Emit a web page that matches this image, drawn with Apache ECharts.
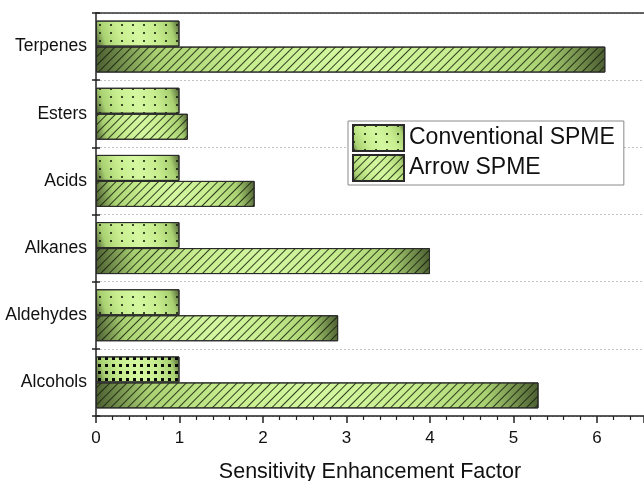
<!DOCTYPE html>
<html><head><meta charset="utf-8">
<script src="https://cdn.jsdelivr.net/npm/echarts@6/dist/echarts.min.js"></script>
<style>html,body{margin:0;padding:0;background:#fff}#c{width:644px;height:481px}</style>
</head><body><div id="c"></div>
<script>
var categories = ['Alcohols', 'Aldehydes', 'Alkanes', 'Acids', 'Esters', 'Terpenes'];
var conventional = [1, 1, 1, 1, 1, 1];
var arrow = [5.3, 2.9, 4.0, 1.9, 1.1, 6.1];
var xTicks = [0, 1, 2, 3, 4, 5, 6];
var seriesNames = ['Conventional SPME', 'Arrow SPME'];

var FONT = 'Liberation Sans, Arial, sans-serif';
function grad() {
  return new echarts.graphic.LinearGradient(1, 0, 0, 1, [
    {offset: 0, color: '#4a5c30'},
    {offset: 0.12, color: '#a9d172'},
    {offset: 0.3, color: '#c8ee90'},
    {offset: 0.5, color: '#d4f7a0'},
    {offset: 0.7, color: '#c8ee90'},
    {offset: 0.88, color: '#a9d172'},
    {offset: 1, color: '#4a5c30'}
  ]);
}
var dotDecal = {symbol: 'rect', symbolSize: 1, dashArrayX: [2, 9], dashArrayY: [2, 6], color: 'rgba(20,30,10,0.8)'};
var boldDotDecal = {symbol: 'rect', symbolSize: 1, dashArrayX: [3, 4], dashArrayY: [3, 4], color: 'rgba(0,0,0,0.95)'};
var hatchDecal = {symbol: 'rect', symbolSize: 1, dashArrayX: [1, 0], dashArrayY: [1, 5], rotation: -Math.PI / 4, color: 'rgba(20,30,10,0.85)'};

var convData = conventional.map(function (v, i) {
  if (categories[i] === 'Alcohols') {
    return {value: v, itemStyle: {decal: boldDotDecal}};
  }
  return v;
});

var chart = echarts.init(document.getElementById('c'), null, {renderer: 'canvas'});
chart.setOption({
  animation: false,
  backgroundColor: '#fff',
  grid: {left: 96, top: 13, bottom: 65, right: 0, containLabel: false, outerBoundsMode: 'none'},
  legend: {
    data: seriesNames,
    orient: 'vertical',
    left: 348, top: 121,
    padding: [3, 9, 3, 4],
    itemWidth: 51, itemHeight: 26, itemGap: 2,
    borderColor: '#8a8a8a', borderWidth: 1, backgroundColor: '#fff',
    icon: 'rect',
    textStyle: {fontSize: 23, fontFamily: FONT, color: '#111'}
  },
  xAxis: [{
    type: 'value', min: 0, max: 6.563, interval: 1,
    name: 'Sensitivity Enhancement Factor', nameLocation: 'middle', nameGap: 45,
    nameTextStyle: {fontSize: 21.5, fontFamily: FONT, color: '#111'},
    axisLine: {show: true, lineStyle: {color: '#222', width: 1.5}},
    axisTick: {show: true, length: 7, lineStyle: {color: '#222', width: 1.5}},
    minorTick: {show: true, splitNumber: 5, length: 4, lineStyle: {color: '#222', width: 1.2}},
    axisLabel: {fontSize: 17, fontFamily: FONT, color: '#111', margin: 14, showMaxLabel: false,
      formatter: function (v) { return xTicks.indexOf(v) >= 0 ? String(v) : ''; }},
    splitLine: {show: false}
  }, {
    type: 'value', position: 'top', min: 0, max: 6.563,
    axisLine: {show: true, lineStyle: {color: '#333', width: 1.5}},
    axisTick: {show: false}, axisLabel: {show: false}, splitLine: {show: false}
  }],
  yAxis: [{
    type: 'category', data: categories,
    axisLine: {show: true, lineStyle: {color: '#222', width: 1.5}},
    axisTick: {show: true, length: 4, lineStyle: {color: '#222', width: 1.5}},
    axisLabel: {fontSize: 17.5, fontFamily: FONT, color: '#111', margin: 9},
    splitLine: {show: true, lineStyle: {color: '#c4c4c4', type: [2, 2], width: 1}}
  }, {
    type: 'category', data: categories, position: 'left',
    axisLine: {show: false},
    axisTick: {show: true, inside: true, length: 4, lineStyle: {color: '#222', width: 1.5}},
    axisLabel: {show: false}, splitLine: {show: false}
  }],
  series: [{
    name: seriesNames[0], type: 'bar', data: convData,
    barWidth: 26, barGap: '0%',
    itemStyle: {color: grad(), borderColor: '#2a2a2a', borderWidth: 1, decal: dotDecal}
  }, {
    name: seriesNames[1], type: 'bar', data: arrow,
    barWidth: 26, barGap: '0%',
    itemStyle: {color: grad(), borderColor: '#2a2a2a', borderWidth: 1, decal: hatchDecal}
  }]
});
</script></body></html>
